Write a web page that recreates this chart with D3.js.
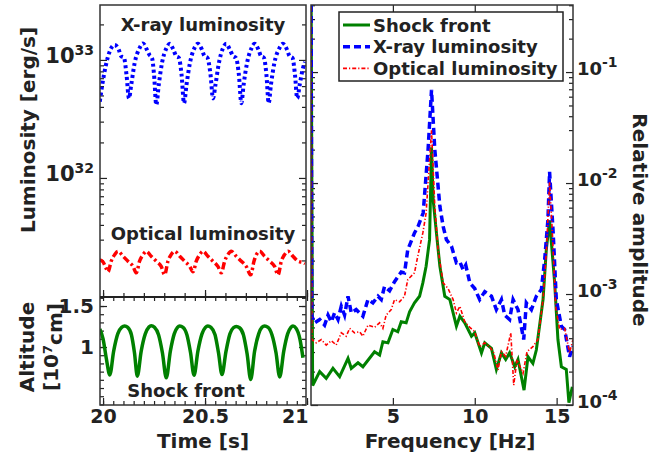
<!DOCTYPE html>
<html>
<head>
<style>
    body { margin: 0; background: #fff; }
    svg text { font-family: "DejaVu Sans", sans-serif; font-weight: bold; fill: #222; }
</style>
<script src="https://d3js.org/d3.v7.min.js"></script>
</head>
<body>
<svg width="670" height="458"></svg>
<script>
// ---- data ----
var timeTicks = [20, 20.5, 21];
var altTicks = [1, 1.5];
var lumTicks = [1e32, 1e33];
var ampTicks = [1e-4, 1e-3, 1e-2, 1e-1];
var freqTicks = [5, 10, 15];
var seriesNames = ["Shock front", "X-ray luminosity", "Optical luminosity"];

// time [s], luminosity [erg/s]
var xrayLum = [
  [19.984, 4.43e32], [19.996, 6.14e32], [20.013, 8.89e32], [20.036, 1.22e33], [20.057, 1.34e33],
  [20.077, 1.22e33], [20.088, 1.08e33], [20.103, 1.04e33], [20.115, 7.47e32], [20.127, 4.73e32],
  [20.138, 6.14e32], [20.155, 9.43e32], [20.179, 1.26e33], [20.196, 1.38e33], [20.215, 1.22e33],
  [20.228, 1.10e33], [20.240, 1.04e33], [20.250, 7.47e32], [20.261, 4.16e32],
  [20.273, 6.14e32], [20.289, 9.43e32], [20.311, 1.26e33], [20.327, 1.37e33], [20.345, 1.22e33],
  [20.358, 1.08e33], [20.372, 1.04e33], [20.385, 7.47e32], [20.397, 4.30e32],
  [20.409, 6.14e32], [20.426, 9.43e32], [20.448, 1.26e33], [20.465, 1.37e33], [20.485, 1.22e33],
  [20.497, 1.08e33], [20.512, 1.04e33], [20.527, 7.47e32], [20.539, 4.73e32],
  [20.551, 6.14e32], [20.568, 9.43e32], [20.588, 1.26e33], [20.604, 1.37e33], [20.622, 1.22e33],
  [20.637, 1.08e33], [20.652, 1.04e33], [20.666, 7.47e32], [20.678, 4.30e32],
  [20.689, 6.14e32], [20.706, 9.43e32], [20.728, 1.26e33], [20.743, 1.37e33], [20.762, 1.22e33],
  [20.774, 1.08e33], [20.789, 1.04e33], [20.801, 7.47e32], [20.812, 4.30e32],
  [20.823, 6.14e32], [20.840, 9.43e32], [20.865, 1.26e33], [20.882, 1.37e33], [20.902, 1.22e33],
  [20.914, 1.08e33], [20.929, 1.04e33], [20.941, 7.47e32], [20.952, 4.73e32],
  [20.964, 6.14e32], [20.978, 8.23e32], [20.990, 9.62e32]
];
var optLum = [
  [19.984, 2.02e31], [20.000, 1.94e31], [20.014, 1.73e31], [20.024, 1.60e31],
  [20.040, 1.97e31], [20.057, 2.24e31], [20.073, 2.39e31], [20.098, 2.17e31], [20.122, 1.97e31], [20.147, 1.78e31], [20.163, 1.57e31],
  [20.179, 1.97e31], [20.196, 2.24e31], [20.212, 2.39e31], [20.236, 2.17e31], [20.261, 1.97e31], [20.285, 1.78e31], [20.302, 1.51e31],
  [20.318, 1.97e31], [20.334, 2.24e31], [20.351, 2.39e31], [20.376, 2.17e31], [20.400, 1.97e31], [20.425, 1.78e31], [20.441, 1.60e31],
  [20.457, 1.97e31], [20.474, 2.24e31], [20.490, 2.39e31], [20.514, 2.17e31], [20.539, 1.97e31], [20.563, 1.78e31], [20.580, 1.57e31],
  [20.596, 1.97e31], [20.612, 2.24e31], [20.629, 2.39e31], [20.653, 2.17e31], [20.678, 1.97e31], [20.702, 1.78e31], [20.724, 1.51e31],
  [20.740, 1.97e31], [20.752, 2.24e31], [20.768, 2.39e31], [20.792, 2.17e31], [20.817, 1.97e31], [20.841, 1.78e31], [20.858, 1.51e31],
  [20.874, 1.97e31], [20.890, 2.24e31], [20.907, 2.39e31], [20.931, 2.17e31], [20.956, 1.97e31], [20.980, 1.92e31], [20.990, 1.88e31]
];
// time [s], altitude [1e7 cm]
var shockAlt = [
  [19.984, 1.22], [20.000, 1.10], [20.016, 0.86], [20.033, 0.66],
  [20.052, 0.95], [20.072, 1.16], [20.091, 1.24], [20.106, 1.256], [20.121, 1.24], [20.139, 1.15], [20.154, 0.93], [20.168, 0.645],
  [20.187, 0.95], [20.207, 1.16], [20.225, 1.245], [20.236, 1.26], [20.252, 1.24], [20.272, 1.15], [20.291, 0.93], [20.310, 0.625],
  [20.330, 0.95], [20.349, 1.16], [20.365, 1.24], [20.376, 1.256], [20.392, 1.24], [20.411, 1.15], [20.429, 0.93], [20.446, 0.655],
  [20.465, 0.95], [20.485, 1.16], [20.502, 1.24], [20.514, 1.256], [20.529, 1.24], [20.549, 1.15], [20.566, 0.93], [20.583, 0.665],
  [20.603, 0.95], [20.622, 1.16], [20.639, 1.235], [20.653, 1.25], [20.669, 1.235], [20.688, 1.15], [20.706, 0.92], [20.724, 0.605],
  [20.743, 0.95], [20.763, 1.16], [20.779, 1.24], [20.792, 1.256], [20.809, 1.24], [20.828, 1.15], [20.848, 0.93], [20.866, 0.635],
  [20.886, 0.95], [20.905, 1.16], [20.921, 1.24], [20.931, 1.256], [20.946, 1.23], [20.965, 1.10], [20.980, 0.87]
];

// frequency [Hz], relative amplitude
var shockSpec = [
  [0, 1], [0.1, 1.5e-4], [0.53, 2.0e-4], [0.93, 1.74e-4], [1.34, 2.14e-4], [1.75, 1.80e-4], [2.26, 2.63e-4],
  [2.46, 2.14e-4], [2.87, 2.40e-4], [3.17, 2.21e-4], [3.88, 3.02e-4], [4.19, 2.82e-4], [4.39, 3.72e-4],
  [4.70, 3.63e-4], [5.0, 4.79e-4], [5.30, 4.57e-4], [5.51, 5.62e-4], [5.81, 5.50e-4], [6.02, 6.92e-4],
  [6.32, 8.32e-4], [6.63, 9.55e-4], [6.83, 1.26e-3], [7.03, 1.78e-3], [7.24, 3.09e-3], [7.36, 2.1e-2],
  [7.46, 7.08e-3], [7.66, 3.55e-3], [7.87, 1.78e-3], [8.17, 9.55e-4], [8.48, 8.91e-4], [8.88, 5.13e-4],
  [9.09, 6.31e-4], [9.39, 5.50e-4], [9.80, 4.17e-4], [10.0, 4.47e-4], [10.41, 2.95e-4], [10.61, 3.63e-4],
  [11.02, 3.24e-4], [11.32, 2.09e-4], [11.63, 2.95e-4], [11.89, 2.57e-4], [12.13, 2.95e-4], [12.44, 2.21e-4],
  [12.64, 2.57e-4], [13.01, 1.36e-4], [13.25, 2.72e-4], [13.55, 2.37e-4], [13.76, 3.13e-4], [14.17, 8.91e-4],
  [14.37, 2.51e-3], [14.57, 4.6e-3], [14.88, 1.26e-3], [15.08, 3.89e-4], [15.29, 2.21e-4], [15.59, 2.09e-4],
  [15.75, 1.05e-4], [15.96, 1.46e-4]
];
var xraySpec = [
  [0, 1], [0.05, 6.31e-4], [0.22, 5.50e-4], [0.53, 5.89e-4], [0.83, 5.25e-4], [1.04, 6.46e-4], [1.24, 5.62e-4],
  [1.44, 6.76e-4], [1.65, 5.89e-4], [1.85, 7.76e-4], [2.05, 6.46e-4], [2.26, 9.55e-4], [2.46, 6.76e-4],
  [2.76, 7.24e-4], [3.17, 6.31e-4], [3.48, 8.91e-4], [3.78, 8.32e-4], [4.09, 9.55e-4], [4.29, 8.91e-4],
  [4.49, 1.17e-3], [4.80, 1.07e-3], [5.10, 1.29e-3], [5.51, 1.58e-3], [5.71, 1.55e-3], [5.91, 2.51e-3],
  [6.32, 3.55e-3], [6.54, 4.07e-3], [6.85, 5.37e-3], [7.15, 2.0e-2], [7.36, 6.9e-2], [7.56, 2.0e-2],
  [7.87, 6.17e-3], [8.07, 4.07e-3], [8.27, 3.09e-3], [8.58, 2.69e-3], [8.88, 1.91e-3], [9.09, 1.95e-3],
  [9.29, 1.66e-3], [9.45, 1.82e-3], [9.70, 1.26e-3], [10.0, 1.12e-3], [10.30, 8.91e-4], [10.61, 1.05e-3],
  [11.02, 9.55e-4], [11.32, 7.24e-4], [11.63, 8.91e-4], [11.83, 6.46e-4], [12.13, 5.89e-4], [12.34, 8.91e-4],
  [12.64, 7.24e-4], [12.99, 3.89e-4], [13.15, 8.32e-4], [13.46, 7.24e-4], [13.76, 9.55e-4], [14.07, 1.10e-3],
  [14.27, 2.04e-3], [14.47, 4.68e-3], [14.57, 1.26e-2], [14.79, 3.55e-3], [14.98, 8.91e-4], [15.29, 5.13e-4],
  [15.49, 4.79e-4], [15.79, 2.72e-4], [16.0, 3.39e-4]
];
var optSpec = [
  [0, 1], [0.05, 3.89e-4], [0.32, 3.63e-4], [0.63, 3.89e-4], [0.93, 3.47e-4], [1.24, 3.80e-4], [1.54, 3.47e-4],
  [1.85, 4.47e-4], [2.15, 4.17e-4], [2.36, 4.90e-4], [2.66, 4.47e-4], [2.97, 4.57e-4], [3.17, 4.17e-4],
  [3.48, 5.25e-4], [3.88, 5.01e-4], [4.19, 5.50e-4], [4.39, 4.90e-4], [4.59, 6.46e-4], [4.90, 7.24e-4],
  [5.10, 8.91e-4], [5.41, 8.51e-4], [5.71, 9.55e-4], [5.91, 1.35e-3], [6.32, 1.55e-3], [6.52, 2.19e-3],
  [6.83, 3.55e-3], [7.03, 5.37e-3], [7.36, 3.0e-2], [7.56, 6.17e-3], [7.76, 2.51e-3], [8.07, 1.26e-3],
  [8.37, 1.12e-3], [8.68, 8.91e-4], [8.88, 6.76e-4], [9.09, 7.76e-4], [9.39, 5.62e-4], [9.70, 5.01e-4],
  [10.0, 4.57e-4], [10.30, 3.35e-4], [10.61, 3.63e-4], [10.91, 3.35e-4], [11.16, 2.95e-4], [11.42, 2.07e-4],
  [11.63, 3.02e-4], [11.89, 2.75e-4], [12.20, 4.47e-4], [12.38, 1.51e-4], [12.58, 2.57e-4], [12.95, 1.93e-4],
  [13.19, 3.02e-4], [13.55, 3.35e-4], [13.86, 3.89e-4], [14.17, 8.91e-4], [14.37, 2.34e-3], [14.57, 1.02e-2],
  [14.74, 3.55e-3], [14.94, 7.76e-4], [15.18, 4.79e-4], [15.49, 4.90e-4], [15.79, 2.95e-4], [16.0, 3.89e-4]
];

// ---- drawing ----
var svg = d3.select("svg");
var ink = "#222";

var xT = d3.scaleLinear().domain([19.985, 20.995]).range([100, 306]);
var yLum = d3.scaleLog().domain([9.8e30, 2.92e33]).range([297, 5]);
var yAlt = d3.scaleLinear().domain([0.293, 1.61]).range([405, 297]);
var xF = d3.scaleLinear().domain([0, 16]).range([311, 573]);
var yAmp = d3.scaleLog().domain([1e-4, 0.402]).range([405, 5]);

var defs = svg.append("defs");
function clip(id, x, y, w, h) {
    defs.append("clipPath").attr("id", id).append("rect")
        .attr("x", x).attr("y", y).attr("width", w).attr("height", h);
}
clip("cTop", 100, 5, 206, 292);
clip("cBot", 100, 297, 206, 108);
clip("cR", 311, 5, 262, 400);

// sets up an axis with inward ticks and strips d3's default styling
function axis(gen, x, y, size, fontSize) {
    var g = svg.append("g").attr("transform", "translate(" + x + "," + y + ")")
        .call(gen.tickSize(-size));
    g.select(".domain").remove();
    g.attr("font-family", null).attr("font-size", fontSize || 19);
    g.selectAll(".tick line").attr("stroke", ink).attr("stroke-width", 1.2);
    return g;
}
function powLabels(g, supSize) {
    g.selectAll(".tick text").each(function(d) {
        var t = d3.select(this), e = Math.round(Math.log10(d));
        t.text(null).attr("dy", "0.12em");
        t.append("tspan").text("10");
        t.append("tspan").attr("dy", "-0.55em").attr("font-size", supSize).text(e);
    });
}
// log-scale minor ticks (2..9 of each decade)
function minorLog(scale) {
    return scale.ticks().filter(function(v) {
        return Math.abs(Math.log10(v) - Math.round(Math.log10(v))) > 1e-6;
    });
}
var none = function() { return ""; };

// ---- left top panel: luminosities ----
powLabels(axis(d3.axisLeft(yLum).tickValues(lumTicks).tickPadding(6), 100, 0, 7, 21), 14);
axis(d3.axisLeft(yLum).tickValues(minorLog(yLum)).tickFormat(none), 100, 0, 4);
axis(d3.axisRight(yLum).tickValues(lumTicks).tickFormat(none), 306, 0, 7);
axis(d3.axisRight(yLum).tickValues(minorLog(yLum)).tickFormat(none), 306, 0, 4);
axis(d3.axisBottom(xT).tickValues(timeTicks).tickFormat(none), 0, 297, 7);
axis(d3.axisBottom(xT).tickValues(d3.range(20, 21.01, 0.1)).tickFormat(none), 0, 297, 4);

var lineLum = d3.line().curve(d3.curveMonotoneX)
    .x(function(d) { return xT(d[0]); }).y(function(d) { return yLum(d[1]); });
var topG = svg.append("g").attr("clip-path", "url(#cTop)");
topG.append("path").datum(xrayLum).attr("d", lineLum)
    .attr("fill", "none").attr("stroke", "#0000ff").attr("stroke-width", 4).attr("stroke-dasharray", "3,3");
topG.append("path").datum(optLum).attr("d", lineLum)
    .attr("fill", "none").attr("stroke", "#ff0000").attr("stroke-width", 3.5).attr("stroke-dasharray", "7,3,2.5,3");

svg.append("text").attr("x", 203).attr("y", 31).attr("text-anchor", "middle").attr("font-size", 18).text("X-ray luminosity");
svg.append("text").attr("x", 203).attr("y", 240).attr("text-anchor", "middle").attr("font-size", 18).text("Optical luminosity");

// ---- left bottom panel: shock altitude ----
axis(d3.axisLeft(yAlt).tickValues(altTicks).tickFormat(d3.format("")).tickPadding(6), 100, 0, 7, 20);
axis(d3.axisLeft(yAlt).tickValues(d3.range(0.3, 1.61, 0.1)).tickFormat(none), 100, 0, 4);
axis(d3.axisRight(yAlt).tickValues(altTicks).tickFormat(none), 306, 0, 7);
axis(d3.axisRight(yAlt).tickValues(d3.range(0.3, 1.61, 0.1)).tickFormat(none), 306, 0, 4);
var xb = axis(d3.axisBottom(xT).tickValues(timeTicks).tickFormat(d3.format("")).tickPadding(5), 0, 405, 7);
xb.selectAll(".tick text").filter(function(d) { return d === 21; })
    .attr("text-anchor", "end").attr("x", 1);
axis(d3.axisBottom(xT).tickValues(d3.range(20, 21.01, 0.05)).tickFormat(none), 0, 405, 4);
axis(d3.axisTop(xT).tickValues(d3.range(20, 21.01, 0.05)).tickFormat(none), 0, 297, 4);

var lineAlt = d3.line().curve(d3.curveMonotoneX)
    .x(function(d) { return xT(d[0]); }).y(function(d) { return yAlt(d[1]); });
svg.append("g").attr("clip-path", "url(#cBot)").append("path").datum(shockAlt).attr("d", lineAlt)
    .attr("fill", "none").attr("stroke", "#008000").attr("stroke-width", 3.5);

svg.append("text").attr("x", 186).attr("y", 397).attr("text-anchor", "middle").attr("font-size", 18).text("Shock front");

// left spines
svg.append("rect").attr("x", 100).attr("y", 5).attr("width", 206).attr("height", 400)
    .attr("fill", "none").attr("stroke", "#333").attr("stroke-width", 1.5);
svg.append("line").attr("x1", 100).attr("x2", 306).attr("y1", 297).attr("y2", 297)
    .attr("stroke", "#222").attr("stroke-width", 2.2);

// left axis titles
svg.append("text").attr("transform", "translate(35,130) rotate(-90)").attr("text-anchor", "middle")
    .attr("font-size", 20).text("Luminosity [erg/s]");
svg.append("text").attr("transform", "translate(34,347) rotate(-90)").attr("text-anchor", "middle")
    .attr("font-size", 20).text("Altitude");
var alt2 = svg.append("text").attr("transform", "translate(58,347) rotate(-90)").attr("text-anchor", "middle")
    .attr("font-size", 20);
alt2.append("tspan").text("[10");
alt2.append("tspan").attr("dy", "-0.5em").attr("font-size", 13).text("7");
alt2.append("tspan").attr("dy", "0.5em").text("cm]");
svg.append("text").attr("x", 203).attr("y", 448).attr("text-anchor", "middle").attr("font-size", 20).text("Time [s]");

// ---- right panel: spectra ----
powLabels(axis(d3.axisRight(yAmp).tickValues(ampTicks).tickPadding(4), 573, 0, 7, 18), 14);
axis(d3.axisRight(yAmp).tickValues(minorLog(yAmp)).tickFormat(none), 573, 0, 4);
axis(d3.axisLeft(yAmp).tickValues(ampTicks).tickFormat(none), 311, 0, 7);
axis(d3.axisLeft(yAmp).tickValues(minorLog(yAmp)).tickFormat(none), 311, 0, 4);
axis(d3.axisBottom(xF).tickValues(freqTicks).tickFormat(d3.format("")).tickPadding(5), 0, 405, 7);
axis(d3.axisTop(xF).tickValues(freqTicks).tickFormat(none), 0, 5, 7);

var lineSpec = d3.line().x(function(d) { return xF(d[0]); }).y(function(d) { return yAmp(d[1]); });
var rG = svg.append("g").attr("clip-path", "url(#cR)");
var specStyles = [
    { data: shockSpec, color: "#008000", width: 3, dash: null },
    { data: xraySpec, color: "#0000ff", width: 3.5, dash: "7,4" },
    { data: optSpec, color: "#ff0000", width: 1.6, dash: "4,2,1.2,2" }
];
specStyles.forEach(function(s) {
    rG.append("path").datum(s.data).attr("d", lineSpec)
        .attr("fill", "none").attr("stroke", s.color).attr("stroke-width", s.width)
        .attr("stroke-dasharray", s.dash);
});

svg.append("rect").attr("x", 311).attr("y", 5).attr("width", 262).attr("height", 400)
    .attr("fill", "none").attr("stroke", "#333").attr("stroke-width", 1.5);

// legend
var leg = svg.append("g");
leg.append("rect").attr("x", 339).attr("y", 12).attr("width", 224).attr("height", 69)
    .attr("fill", "#fff").attr("stroke", "#222").attr("stroke-width", 1.5);
seriesNames.forEach(function(name, i) {
    var y = 25 + i * 21.7, s = specStyles[i];
    leg.append("line").attr("x1", 343).attr("x2", 370).attr("y1", y).attr("y2", y)
        .attr("stroke", s.color).attr("stroke-width", s.width).attr("stroke-dasharray", s.dash);
    leg.append("text").attr("x", 373).attr("y", y + 6.5).attr("font-size", 18).text(name);
});

svg.append("text").attr("x", 450).attr("y", 448).attr("text-anchor", "middle").attr("font-size", 20).text("Frequency [Hz]");
svg.append("text").attr("transform", "translate(633,220) rotate(90)").attr("text-anchor", "middle")
    .attr("font-size", 20).text("Relative amplitude");
</script>
</body>
</html>
